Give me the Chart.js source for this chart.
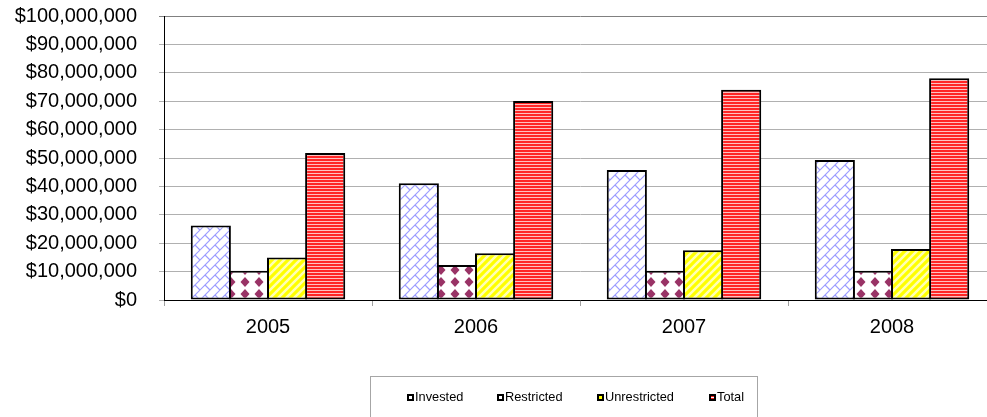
<!DOCTYPE html>
<html>
<head>
<meta charset="utf-8">
<script src="https://cdn.jsdelivr.net/npm/chart.js@4/dist/chart.umd.min.js"></script>
<style>
  html, body { margin: 0; padding: 0; background: #fff; overflow: hidden; }
  #wrap { position: relative; width: 996px; height: 417px; }
</style>
</head>
<body>
<div id="wrap"><canvas id="c"></canvas></div>
<script>
// Fund balances by year
const years = ['2005', '2006', '2007', '2008'];
const seriesNames = ['Invested', 'Restricted', 'Unrestricted', 'Total'];
const invested = [26200000, 41100000, 45800000, 49300000];
const restricted = [10300000, 12300000, 10300000, 10300000];
const unrestricted = [15000000, 16500000, 17500000, 18000000];
const total = [51800000, 70100000, 74000000, 78100000];
const yMin = 0, yMax = 100000000, yStep = 10000000;

const FONT = '"Liberation Sans", Arial, sans-serif';

// Small tile canvases used as repeating fill patterns
function makePattern(w, h, draw) {
  const c = document.createElement('canvas');
  c.width = w; c.height = h;
  const g = c.getContext('2d');
  draw(g, w, h);
  return g.createPattern(c, 'repeat');
}

// Diagonal brick: "/" courses with staggered "\" joints
const brickFill = makePattern(20, 20, (g, T) => {
  const s = T / 2;
  g.fillStyle = '#ffffff';
  g.fillRect(0, 0, T, T);
  g.strokeStyle = '#9c9cff';
  g.lineWidth = 1.2;
  g.beginPath();
  for (let k = -4; k <= 8; k++) {
    const sum = s * k;
    g.moveTo(-T, sum + T);
    g.lineTo(2 * T, sum - 2 * T);
  }
  for (let k = -4; k <= 7; k++) {
    const c0 = (((k % 2) + 2) % 2 === 0) ? s : 0;
    const a = s * k, b = s * (k + 1);
    for (let m = -3; m <= 3; m++) {
      const c = c0 + m * T;
      g.moveTo((a + c) / 2, (a - c) / 2);
      g.lineTo((b + c) / 2, (b - c) / 2);
    }
  }
  g.stroke();
});

// Solid diamonds on white
const diamondFill = makePattern(14, 12, (g, w, h) => {
  g.fillStyle = '#ffffff';
  g.fillRect(0, 0, w, h);
  g.fillStyle = '#993366';
  g.beginPath();
  g.moveTo(7, 1);
  g.lineTo(11.5, 6);
  g.lineTo(7, 11);
  g.lineTo(2.5, 6);
  g.closePath();
  g.fill();
});

// Yellow with pale upward diagonal stripes
const stripeFill = makePattern(8, 8, (g, w, h) => {
  g.fillStyle = '#ffff00';
  g.fillRect(0, 0, w, h);
  g.strokeStyle = '#ffffb4';
  g.lineWidth = 2.5;
  g.beginPath();
  for (let k = -1; k <= 3; k++) {
    g.moveTo(-8, 8 * k + 8);
    g.lineTo(16, 8 * k - 16);
  }
  g.stroke();
});

// Red with fine light horizontal lines
const lineFill = makePattern(4, 3, (g, w) => {
  g.fillStyle = '#ff2626';
  g.fillRect(0, 0, w, 3);
  g.fillStyle = '#ffc0c0';
  g.fillRect(0, 2, w, 1);
});

const fills = [brickFill, diamondFill, stripeFill, lineFill];
const swatchInner = ['#ffffff', '#ffffff', '#ffff00', '#ff2020'];

// Boxed legend row beneath the plot
const boxedLegend = {
  id: 'boxedLegend',
  afterDraw(chart) {
    const g = chart.ctx;
    g.save();
    g.strokeStyle = '#a6a6a6';
    g.lineWidth = 1;
    g.strokeRect(370.5, 376.5, 387, 60);
    g.font = '12.8px ' + FONT;
    g.textBaseline = 'middle';
    g.textAlign = 'left';
    const cy = 397;
    let x = 406.5;
    chart.data.datasets.forEach((ds, i) => {
      const left = Math.round(x);
      const top = cy - 3;
      g.fillStyle = '#000';
      g.fillRect(left, top, 7, 7);
      g.fillStyle = swatchInner[i];
      g.fillRect(left + 2, top + 2, 3, 3);
      if (i === 3) {
        g.fillStyle = '#ffffff';
        g.fillRect(left + 2, top + 3, 3, 1);
      }
      g.fillStyle = '#000';
      g.fillText(ds.label, left + 8, cy);
      x += 8 + g.measureText(ds.label).width + 34.5;
    });
    g.restore();
  }
};

const seriesData = [invested, restricted, unrestricted, total];

new Chart(document.getElementById('c'), {
  type: 'bar',
  data: {
    labels: years,
    datasets: seriesNames.map((name, i) => ({
      label: name,
      data: seriesData[i],
      backgroundColor: fills[i]
    }))
  },
  options: {
    responsive: true,
    maintainAspectRatio: false,
    animation: false,
    devicePixelRatio: 1,
    layout: { padding: 0 },
    datasets: {
      bar: {
        borderColor: '#000000',
        borderWidth: 2,
        borderSkipped: false,
        categoryPercentage: 0.733,
        barPercentage: 1.053
      }
    },
    plugins: {
      legend: { display: false },
      tooltip: { enabled: false }
    },
    scales: {
      x: {
        grid: {
          display: true,
          drawOnChartArea: false,
          drawTicks: true,
          tickLength: 6,
          color: '#a0a0a0',
          offset: true
        },
        border: { display: true, color: '#000000', width: 1 },
        ticks: { color: '#000', font: { family: FONT, size: 20 }, padding: 9 },
        afterFit(scale) { scale.height = 117; scale.paddingLeft = 0; scale.paddingRight = 0; }
      },
      y: {
        min: yMin,
        max: yMax,
        ticks: {
          stepSize: yStep,
          color: '#000',
          font: { family: FONT, size: 20 },
          padding: 22,
          callback: v => '$' + Number(v).toLocaleString('en-US')
        },
        grid: {
          color: ctx => (ctx.tick && ctx.tick.value === yMax) ? '#808080' : '#b0b0b0',
          lineWidth: 1,
          tickLength: 5
        },
        border: { display: true, color: '#000000', width: 1 },
        afterFit(scale) { scale.width = 164; scale.paddingTop = 16; scale.paddingBottom = 0; }
      }
    }
  },
  plugins: [boxedLegend]
});
</script>
</body>
</html>
